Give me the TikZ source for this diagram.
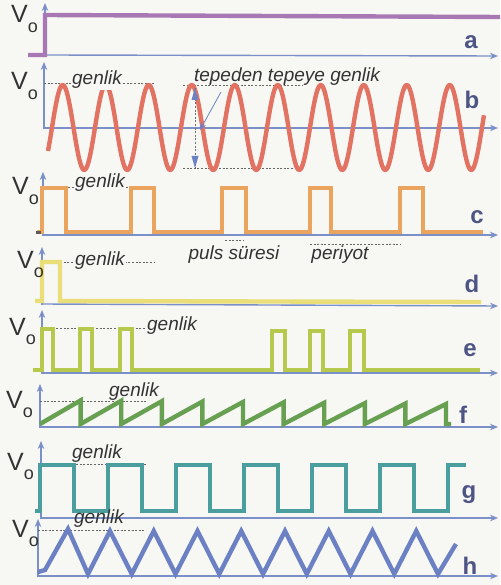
\documentclass[tikz,border=0pt]{standalone}
\usepackage{fontspec}
\setmainfont{Liberation Sans}
\usetikzlibrary{arrows.meta}
\definecolor{bg}{HTML}{F7F7F4}
\definecolor{axc}{HTML}{7B8FC8}
\definecolor{txt}{HTML}{333333}
\definecolor{lbl}{HTML}{4E5585}
\definecolor{ca}{HTML}{A878B4}
\definecolor{cb}{HTML}{E27262}
\definecolor{cc}{HTML}{EBA45E}
\definecolor{cd}{HTML}{E9DE78}
\definecolor{ce}{HTML}{B7C94C}
\definecolor{cf}{HTML}{68A052}
\definecolor{cg}{HTML}{4A9E9E}
\definecolor{ch}{HTML}{6C80C4}
\newcommand\myVo{V\raisebox{-9.5pt}{\fontsize{18}{18}\selectfont o}}
\tikzset{
  axis/.style={draw=axc, line width=1.4pt, -{Stealth[length=8pt,width=6.5pt]}},
  sig/.style={line width=4.4pt, line join=miter},
  gl/.style={draw=txt!75, dash pattern=on 2pt off 1.6pt, line width=0.6pt},
  lab/.style={font=\fontsize{19}{19}\selectfont\itshape, text=txt, inner sep=1pt},
  labf/.style={lab, fill=bg},
  letter/.style={font=\fontsize{24}{24}\selectfont\bfseries, text=lbl, inner sep=0pt},
  vo/.style={anchor=base west, inner sep=0pt, text=txt, font=\fontsize{25}{25}\selectfont},
}
\begin{document}
\begin{tikzpicture}[x=1pt,y=-1pt]
\fill[bg] (0,0) rectangle (500,585);
\useasboundingbox (0,0) rectangle (500,585);

% ---------- a ----------
\coordinate (a0) at (45,55);
\draw[axis] (45,57) -- (45,3);
\draw[axis] (a0) -- (498,56);
\draw[sig, draw=ca] (28,55) -- (45,55) -- (45,15) -- (500,17);
\node[vo] (voa) at (11,23) {\myVo};
\node[letter] (la) at (471,42) {a};

% ---------- b ----------
\draw[axis] (44,129) -- (44,62);
\draw[axis] (44,128) -- (498,128);
\draw[gl] (44,83) -- (155,83);
\draw[gl] (183,85) -- (302,85);
\draw[gl] (183,168) -- (300,168);
\draw[sig, draw=cb, line join=round] plot[domain=48:484, samples=400, variable=\t] ({\t},{127.5-42.5*sin(8.372093*(\t-52))});
\node[labf] (gb) at (97,80) {genlik};
\node[lab] (tt) at (287,77) {tepeden tepeye genlik};
\coordinate (pt) at (195,88);
\coordinate (pb) at (195,168);
\draw[gl, draw=txt!70] (pt) -- (pb);
\draw[draw=none, fill=ch] (195,88) -- (191.5,100) -- (198.5,100) -- cycle;
\draw[draw=none, fill=ch] (195,168) -- (191.5,156) -- (198.5,156) -- cycle;
\coordinate (pm) at (200,130);
\draw[ch, line width=0.8pt, -{Stealth[length=7pt,width=6pt]}] (221,92) -- (pm);
\node[vo] (vob) at (11,90) {\myVo};
\node[letter] (lb) at (472,100) {b};

% ---------- c ----------
\draw[axis] (43,236) -- (43,172);
\draw[axis] (43,235) -- (498,235);
\draw[gl] (43,187) -- (143,187);
\draw[sig, draw=cc] (37,232) -- (42,232) -- (42,188) -- (66,188) -- (66,232)
  -- (131,232) -- (131,188) -- (154,188) -- (154,232)
  -- (222,232) -- (222,188) -- (246,188) -- (246,232)
  -- (310,232) -- (310,188) -- (331,188) -- (331,232)
  -- (400,232) -- (400,188) -- (423,188) -- (423,232) -- (483,232);
\fill[txt!80] (36,231) rectangle (41,234);
\node[labf] (gc) at (100,183) {genlik};
\draw[gl] (225,240) -- (244,240);
\draw[gl] (310,244) -- (401,244);
\node[lab] (ps) at (234,255) {puls süresi};
\node[lab] (pr) at (340,255) {periyot};
\node[vo] (voc) at (12,195) {\myVo};
\node[letter] (lc) at (477,217) {c};

% ---------- d ----------
\draw[axis] (42,305) -- (42,247);
\draw[axis] (42,304) -- (498,306);
\draw[gl] (42,262) -- (155,262);
\draw[sig, draw=cd] (35,301) -- (42,301) -- (42,262) -- (60,262) -- (60,301) -- (481,302);
\node[labf] (gd) at (100,261) {genlik};
\node[vo] (vod) at (17,268) {\myVo};
\node[letter] (ld) at (472,284) {d};

% ---------- e ----------
\draw[axis] (42,374) -- (42,310);
\draw[axis] (42,373) -- (498,373);
\draw[gl] (42,328) -- (146,328);
\draw[sig, draw=ce] (33,370) -- (42,370) -- (42,329) -- (53,329) -- (53,370)
  -- (80,370) -- (80,329) -- (92,329) -- (92,370)
  -- (120,370) -- (120,329) -- (132,329) -- (132,370)
  -- (272,370) -- (272,331) -- (285,331) -- (285,370)
  -- (310,370) -- (310,331) -- (323,331) -- (323,370)
  -- (350,370) -- (350,331) -- (364,331) -- (364,370) -- (480,370);
\node[labf] (ge) at (172,326) {genlik};
\node[vo] (voe) at (9,335) {\myVo};
\node[letter] (le) at (470,350) {e};

% ---------- f ----------
\draw[axis] (40,428) -- (40,384);
\draw[axis] (40,427) -- (498,427);
\draw[gl] (40,401) -- (146,401);
\draw[sig, draw=cf] (40,424)
  \foreach \k in {1,...,10} { -- ({40+40.6*\k},{400+0.4*\k}) -- ({40+40.6*\k},424) }
  -- (451,424);
\node[lab] (gf) at (134,392) {genlik};
\node[vo] (vof) at (6,408) {\myVo};
\node[letter] (lf) at (463,415) {f};

% ---------- g ----------
\draw[axis] (41,519) -- (41,441);
\draw[axis] (41,518) -- (498,518);
\draw[gl] (40,464) -- (146,464);
\draw[sig, draw=cg] (35,511) -- (40,511)
  \foreach \k in {0,...,5} { -- ({40+68*\k},465) -- ({74+68*\k},465) -- ({74+68*\k},511) -- ({108+68*\k},511) }
  -- (448,465) -- (466,465);
\node[lab] (gg) at (97,454) {genlik};
\node[vo] (vog) at (7,470) {\myVo};
\node[letter] (lg) at (469,495) {g};

% ---------- h ----------
\draw[axis] (38,577) -- (38,519);
\draw[axis] (38,576) -- (498,576);
\draw[gl] (38,530) -- (146,530);
\draw[sig, draw=ch, line join=miter] (38,572) -- (45,570) -- (68,529)
  \foreach \k in {0,...,7} { -- ({88+43.75*\k},574) -- ({110+43.75*\k},531) }
  -- (438,574) -- (456,544);
\node[lab] (gh) at (99,519) {genlik};
\node[vo] (voh) at (12,537) {\myVo};
\node[letter] (lh) at (470,566) {h};
\end{tikzpicture}
\end{document}
